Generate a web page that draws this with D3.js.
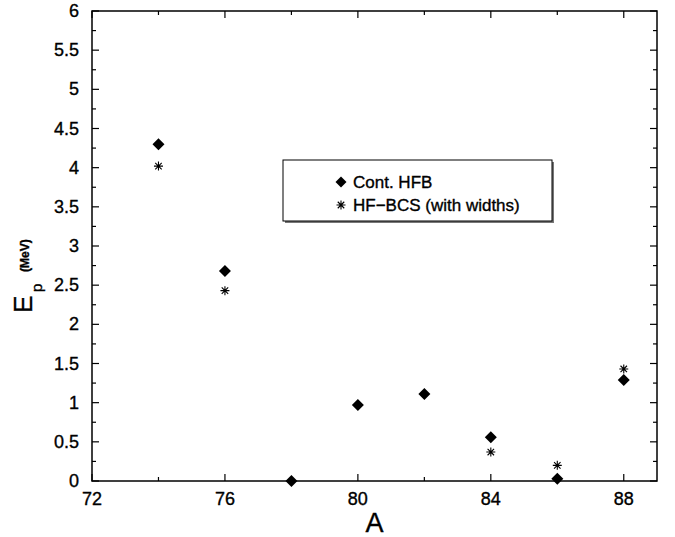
<!DOCTYPE html>
<html>
<head>
<meta charset="utf-8">
<script src="https://cdn.jsdelivr.net/npm/d3@7"></script>
<style>
  body { margin: 0; background: #fff; }
  text { font-family: "Liberation Sans", Arial, Helvetica, sans-serif; fill: #000; stroke: #000; stroke-width: 0.35px; }
</style>
</head>
<body>
<svg id="chart" width="675" height="537"></svg>
<script>
// mass numbers and the two series (MeV)
var massNumbers = [74, 76, 78, 80, 82, 84, 86, 88];
var contHFB   = [4.30, 2.68, 0.00, 0.97, 1.11, 0.56, 0.03, 1.29];
var hfBCS     = [4.02, 2.43, null, null, null, 0.37, 0.20, 1.43]; // hidden under diamonds at 78-82
var xTicks = [72, 76, 80, 84, 88];
var yTicks = [0, 0.5, 1, 1.5, 2, 2.5, 3, 3.5, 4, 4.5, 5, 5.5, 6];
var seriesNames = ["Cont. HFB", "HF\u2212BCS (with widths)"];

var svg = d3.select("#chart");
var pLeft = 92, pRight = 657, pTop = 11, pBottom = 481;

var x = d3.scaleLinear().domain([72, 89]).range([pLeft, pRight]);
var y = d3.scaleLinear().domain([0, 6]).range([pBottom, pTop]);

var g = svg.append("g");

// frame
g.append("rect")
  .attr("x", pLeft).attr("y", pTop)
  .attr("width", pRight - pLeft).attr("height", pBottom - pTop)
  .style("fill", "none").style("stroke", "#000").style("stroke-width", 1.5);

// ticks, inward, on all four sides
var xMinor = d3.range(72, 89.01, 2);
var yMinor = d3.range(0, 6.001, 0.25);

xMinor.forEach(function(v) {
  var len = (v % 4 === 0) ? 7 : 4;
  g.append("line").attr("x1", x(v)).attr("x2", x(v)).attr("y1", pBottom).attr("y2", pBottom - len)
    .style("stroke", "#000").style("stroke-width", 1.2);
  g.append("line").attr("x1", x(v)).attr("x2", x(v)).attr("y1", pTop).attr("y2", pTop + len)
    .style("stroke", "#000").style("stroke-width", 1.2);
});
yMinor.forEach(function(v) {
  var len = (Math.abs(v * 2 - Math.round(v * 2)) < 1e-6) ? 7 : 4;
  g.append("line").attr("y1", y(v)).attr("y2", y(v)).attr("x1", pLeft).attr("x2", pLeft + len)
    .style("stroke", "#000").style("stroke-width", 1.2);
  g.append("line").attr("y1", y(v)).attr("y2", y(v)).attr("x1", pRight).attr("x2", pRight - len)
    .style("stroke", "#000").style("stroke-width", 1.2);
});

// tick labels
g.selectAll(".xlab").data(xTicks).enter().append("text")
  .attr("class", "xlab")
  .attr("x", function(d) { return x(d); })
  .attr("y", 505)
  .attr("text-anchor", "middle")
  .style("font-size", "18px")
  .text(function(d) { return d; });

g.selectAll(".ylab").data(yTicks).enter().append("text")
  .attr("class", "ylab")
  .attr("x", 79)
  .attr("y", function(d) { return y(d) + 6; })
  .attr("text-anchor", "end")
  .style("font-size", "18px")
  .text(function(d) { return d; });

// axis titles
g.append("text")
  .attr("x", (pLeft + pRight) / 2).attr("y", 532)
  .attr("text-anchor", "middle")
  .style("font-size", "27px")
  .text("A");

g.append("text")
  .attr("transform", "translate(32,313) rotate(-90)")
  .style("font-size", "26px")
  .text("E");
g.append("text")
  .attr("transform", "translate(42,292) rotate(-90)")
  .style("font-size", "15px")
  .text("p");
g.append("text")
  .attr("transform", "translate(29,272) rotate(-90)")
  .style("font-size", "12px").style("font-weight", "bold")
  .text("(MeV)");

// markers
var diamond = function(cx, cy, r) {
  return "M" + cx + "," + (cy - r) + "L" + (cx + r) + "," + cy + "L" + cx + "," + (cy + r) + "L" + (cx - r) + "," + cy + "Z";
};
var star = function(cx, cy, r) {
  var d = r * 0.72;
  return "M" + (cx - r) + "," + cy + "L" + (cx + r) + "," + cy +
         "M" + cx + "," + (cy - r) + "L" + cx + "," + (cy + r) +
         "M" + (cx - d) + "," + (cy - d) + "L" + (cx + d) + "," + (cy + d) +
         "M" + (cx - d) + "," + (cy + d) + "L" + (cx + d) + "," + (cy - d);
};

var pts = massNumbers.map(function(a, i) { return {a: a, hfb: contHFB[i], bcs: hfBCS[i]}; });

g.selectAll(".bcs").data(pts.filter(function(d) { return d.bcs !== null; })).enter().append("path")
  .attr("class", "bcs")
  .attr("d", function(d) { return star(x(d.a), y(d.bcs), 4.5); })
  .style("fill", "none").style("stroke", "#000").style("stroke-width", 1.1);

g.selectAll(".hfb").data(pts).enter().append("path")
  .attr("class", "hfb")
  .attr("d", function(d) { return diamond(x(d.a), y(d.hfb), 6); })
  .style("fill", "#000");

// legend with drop shadow
var lx = 283, ly = 160, lw = 269, lh = 61;
g.append("rect").attr("x", lx + 2).attr("y", ly + 2).attr("width", lw).attr("height", lh)
  .style("fill", "#777");
g.append("rect").attr("x", lx).attr("y", ly).attr("width", lw).attr("height", lh)
  .style("fill", "#fff").style("stroke", "#000").style("stroke-width", 1);

g.append("path").attr("d", diamond(341, 182, 5.5)).style("fill", "#000");
g.append("path").attr("d", star(341, 205, 4.5))
  .style("fill", "none").style("stroke", "#000").style("stroke-width", 1.1);

g.selectAll(".leg").data(seriesNames).enter().append("text")
  .attr("class", "leg")
  .attr("x", 353)
  .attr("y", function(d, i) { return 188 + i * 23; })
  .style("font-size", "17px")
  .text(function(d) { return d; });
</script>
</body>
</html>
